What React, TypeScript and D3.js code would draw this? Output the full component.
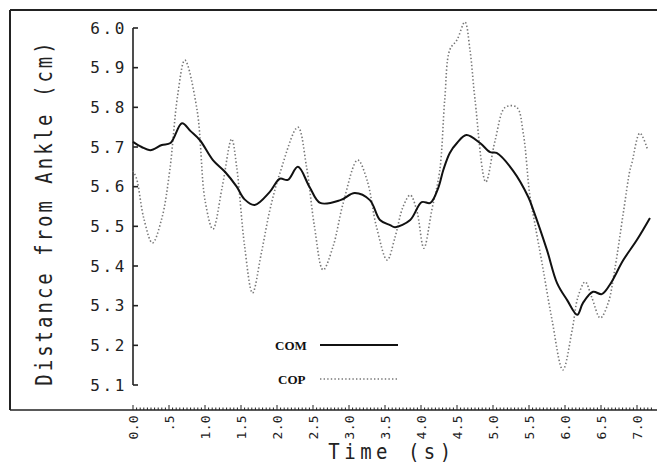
import * as d3 from 'd3'

// COM (solid) and COP (dotted) traces
const comTime = [0, 0.12, 0.24, 0.4, 0.52, 0.68, 0.8, 0.93, 1.11, 1.28, 1.44, 1.55, 1.69, 1.9, 2.04, 2.15, 2.29, 2.45, 2.6, 2.88, 3.08, 3.29, 3.43, 3.57, 3.64, 3.85, 4.01, 4.13, 4.24, 4.31, 4.4, 4.5, 4.63, 4.82, 4.96, 5.05, 5.28, 5.49, 5.56, 5.75, 5.89, 6.03, 6.17, 6.25, 6.39, 6.51, 6.62, 6.81, 7.0, 7.18]
const comValue = [5.713, 5.7, 5.692, 5.705, 5.71, 5.76, 5.74, 5.717, 5.667, 5.637, 5.6, 5.568, 5.554, 5.587, 5.62, 5.617, 5.65, 5.6, 5.559, 5.566, 5.584, 5.566, 5.516, 5.503, 5.498, 5.516, 5.561, 5.559, 5.597, 5.642, 5.685, 5.71, 5.73, 5.71, 5.687, 5.685, 5.64, 5.574, 5.541, 5.44, 5.357, 5.314, 5.277, 5.307, 5.335, 5.329, 5.352, 5.415, 5.466, 5.521]

const copTime = [0, 0.05, 0.15, 0.27, 0.4, 0.51, 0.62, 0.72, 0.89, 1.0, 1.11, 1.24, 1.37, 1.44, 1.55, 1.66, 1.78, 1.9, 2.04, 2.29, 2.41, 2.52, 2.64, 2.78, 2.92, 3.12, 3.25, 3.38, 3.53, 3.64, 3.75, 3.85, 3.94, 4.04, 4.15, 4.26, 4.33, 4.4, 4.5, 4.61, 4.68, 4.75, 4.9, 5.03, 5.17, 5.33, 5.42, 5.51, 5.58, 5.69, 5.82, 5.97, 6.1, 6.18, 6.28, 6.37, 6.49, 6.6, 6.69, 6.81, 6.9, 6.93, 7.04, 7.15]
const copValue = [5.64, 5.62, 5.52, 5.458, 5.52, 5.64, 5.83, 5.919, 5.793, 5.566, 5.493, 5.6, 5.72, 5.65, 5.45, 5.332, 5.43, 5.54, 5.634, 5.75, 5.65, 5.5, 5.39, 5.45, 5.559, 5.667, 5.617, 5.5, 5.415, 5.473, 5.549, 5.579, 5.541, 5.445, 5.541, 5.64, 5.82, 5.945, 5.97, 6.015, 5.945, 5.82, 5.612, 5.717, 5.8, 5.8, 5.735, 5.58, 5.508, 5.398, 5.264, 5.138, 5.239, 5.322, 5.36, 5.322, 5.269, 5.307, 5.39, 5.534, 5.64, 5.66, 5.735, 5.692]

const yTicks = [5.1, 5.2, 5.3, 5.4, 5.5, 5.6, 5.7, 5.8, 5.9, 6.0]
const xTicks = [0, 0.5, 1, 1.5, 2, 2.5, 3, 3.5, 4, 4.5, 5, 5.5, 6, 6.5, 7]
const xTickLabels = ['0.0', '.5', '1.0', '1.5', '2.0', '2.5', '3.0', '3.5', '4.0', '4.5', '5.0', '5.5', '6.0', '6.5', '7.0']

const W = 657
const H = 464
const mono = "'DejaVu Sans Mono', monospace"

export default function App() {
  const x = d3.scaleLinear().domain([0, 7]).range([133, 637])
  const y = d3.scaleLinear().domain([5.1, 6.0]).range([385, 28])

  const line = d3.line<[number, number]>()
    .x(d => x(d[0]))
    .y(d => y(d[1]))
    .curve(d3.curveCatmullRom.alpha(0.5))

  const comPath = line(comTime.map((t, i) => [t, comValue[i]]) as [number, number][]) || ''
  const copPath = line(copTime.map((t, i) => [t, copValue[i]]) as [number, number][]) || ''

  const minor = d3.range(0, 145).map(i => i / 20)
  const axisY = 410

  return (
    <svg width={W} height={H} style={{ position: 'fixed', left: 0, top: 0, background: '#fff' }}>
      {/* frame */}
      <line x1={10} y1={10} x2={W} y2={10} stroke="#222" strokeWidth={2} />
      <line x1={10} y1={10} x2={10} y2={axisY} stroke="#222" strokeWidth={2} />
      <line x1={10} y1={axisY} x2={W} y2={axisY} stroke="#222" strokeWidth={1.6} />

      {/* y axis */}
      <line x1={133} y1={y(6.0)} x2={133} y2={y(5.1)} stroke="#222" strokeWidth={1.6} />
      {yTicks.map(t => (
        <g key={t}>
          <line x1={133} x2={138} y1={y(t)} y2={y(t)} stroke="#222" strokeWidth={1.6} />
          <text x={127} y={y(t)} dy="0.36em" textAnchor="end" fontFamily={mono} fontSize={16} letterSpacing={2.6} fill="#222">
            {t.toFixed(1)}
          </text>
        </g>
      ))}
      <text transform={`translate(52,${(40 + 385) / 2}) rotate(-90) scale(1,1.25)`} textAnchor="middle" fontFamily={mono} fontSize={19} letterSpacing={3} fill="#222">
        Distance from Ankle (cm)
      </text>

      {/* x axis ticks */}
      {minor.map(t => {
        const major = Math.abs(t * 2 - Math.round(t * 2)) < 1e-6
        return (
          <line key={t} x1={x(t)} x2={x(t)} y1={axisY} y2={axisY - (major ? 5 : 2.5)} stroke="#222" strokeWidth={1} />
        )
      })}
      {xTicks.map((t, i) => (
        <text key={t} transform={`translate(${x(t)},${axisY + 5}) rotate(-90)`} dy="0.36em" textAnchor="end" fontFamily={mono} fontSize={13} letterSpacing={0.3} fill="#222">
          {xTickLabels[i]}
        </text>
      ))}
      <text transform="translate(392,459) scale(1,1.12)" textAnchor="middle" fontFamily={mono} fontSize={19} letterSpacing={4.5} fill="#222">
        Time (s)
      </text>

      {/* series */}
      <path d={copPath} fill="none" stroke="#777" strokeWidth={1.6} strokeDasharray="1.4 2.2" />
      <path d={comPath} fill="none" stroke="#111" strokeWidth={2} />

      {/* legend */}
      <text x={275} y={350} fontFamily="'Liberation Serif', serif" fontWeight="bold" fontSize={13} fill="#111">COM</text>
      <line x1={320} x2={398} y1={345} y2={345} stroke="#111" strokeWidth={2} />
      <text x={278} y={384} fontFamily="'Liberation Serif', serif" fontWeight="bold" fontSize={13} fill="#111">COP</text>
      <line x1={320} x2={398} y1={379} y2={379} stroke="#777" strokeWidth={1.6} strokeDasharray="1.4 2.2" />
    </svg>
  )
}
